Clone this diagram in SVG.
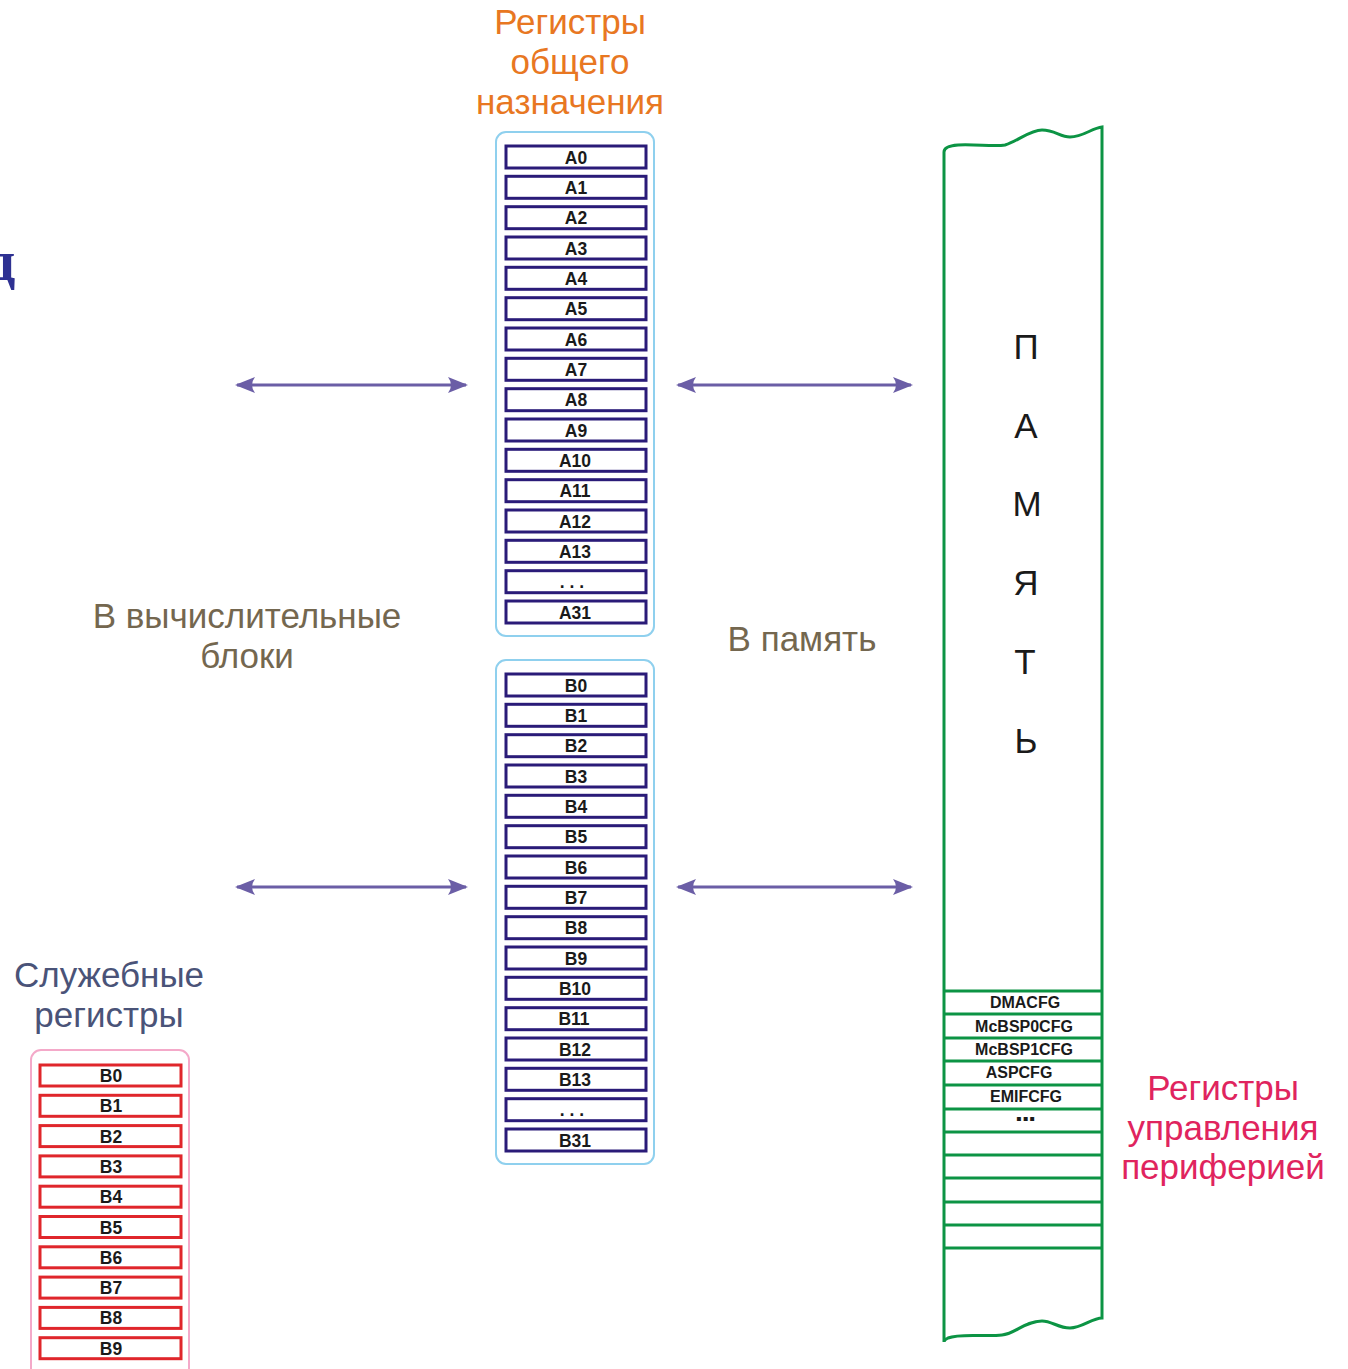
<svg xmlns="http://www.w3.org/2000/svg" width="1348" height="1369" viewBox="0 0 1348 1369">
<style>
text{font-family:"Liberation Sans",Arial,sans-serif}
.cont{fill:none;stroke:#8fd0ee;stroke-width:2}
.contp{fill:none;stroke:#f4a9c9;stroke-width:2}
.cell{fill:#fff;stroke:#2a1b78;stroke-width:3}
.cellr{fill:#fff;stroke:#e0262b;stroke-width:3}
.cl{font-size:17.5px;font-weight:bold;fill:#1a1a1a;text-anchor:middle}
.mem{fill:none;stroke:#0c9444;stroke-width:3}
.ml{font-size:16px;font-weight:bold;fill:#1a1a1a;text-anchor:middle}
.big{font-size:35px;text-anchor:middle}
.let{font-size:35px;fill:#1a1a1a;text-anchor:middle}
.arr{stroke:#6b5ea6;stroke-width:3;fill:none;marker-start:url(#ah);marker-end:url(#ah)}
</style>
<defs>
<marker id="ah" viewBox="0 0 20 16" refX="18" refY="8" markerWidth="20" markerHeight="16" markerUnits="userSpaceOnUse" orient="auto-start-reverse">
<path d="M0,0 L20,8 L0,16 Q6,8 0,0 Z" fill="#6b5ea6"/>
</marker>
</defs>
<rect width="1348" height="1369" fill="#fff"/>
<text x="-14" y="280" font-size="58" font-weight="bold" fill="#2e3192" style="font-family:'Liberation Serif',serif">д</text>

<g id="title-gp"><text class="big" fill="#e87722"><tspan x="570" y="34">Регистры</tspan><tspan x="570" y="74">общего</tspan><tspan x="570" y="114">назначения</tspan></text></g>
<g id="label-compute"><text class="big" fill="#74674f"><tspan x="247" y="628">В вычислительные</tspan><tspan x="247" y="668">блоки</tspan></text></g>
<g id="label-memory"><text class="big" fill="#74674f" x="802" y="651">В память</text></g>
<g id="title-service"><text class="big" fill="#4a5378"><tspan x="109" y="987">Служебные</tspan><tspan x="109" y="1027">регистры</tspan></text></g>
<g id="title-periph"><text class="big" fill="#e0245e"><tspan x="1223" y="1100">Регистры</tspan><tspan x="1223" y="1140">управления</tspan><tspan x="1223" y="1179">периферией</tspan></text></g>

<g id="regs-A">
<rect class="cont" x="496" y="132" width="158" height="504" rx="10"/>
<rect class="cell" x="506" y="146" width="140" height="22"/><text class="cl" x="576" y="163.5">A0</text>
<rect class="cell" x="506" y="176.3" width="140" height="22"/><text class="cl" x="576" y="193.8">A1</text>
<rect class="cell" x="506" y="206.7" width="140" height="22"/><text class="cl" x="576" y="224.2">A2</text>
<rect class="cell" x="506" y="237" width="140" height="22"/><text class="cl" x="576" y="254.5">A3</text>
<rect class="cell" x="506" y="267.3" width="140" height="22"/><text class="cl" x="576" y="284.8">A4</text>
<rect class="cell" x="506" y="297.7" width="140" height="22"/><text class="cl" x="576" y="315.2">A5</text>
<rect class="cell" x="506" y="328" width="140" height="22"/><text class="cl" x="576" y="345.5">A6</text>
<rect class="cell" x="506" y="358.3" width="140" height="22"/><text class="cl" x="576" y="375.8">A7</text>
<rect class="cell" x="506" y="388.7" width="140" height="22"/><text class="cl" x="576" y="406.2">A8</text>
<rect class="cell" x="506" y="419" width="140" height="22"/><text class="cl" x="576" y="436.5">A9</text>
<rect class="cell" x="506" y="449.3" width="140" height="22"/><text class="cl" x="575" y="466.8">A10</text>
<rect class="cell" x="506" y="479.7" width="140" height="22"/><text class="cl" x="575" y="497.2">A11</text>
<rect class="cell" x="506" y="510" width="140" height="22"/><text class="cl" x="575" y="527.5">A12</text>
<rect class="cell" x="506" y="540.3" width="140" height="22"/><text class="cl" x="575" y="557.8">A13</text>
<rect class="cell" x="506" y="570.7" width="140" height="22"/><text class="cl" x="572" y="587.7" font-size="13" font-weight="normal">. . .</text>
<rect class="cell" x="506" y="601" width="140" height="22"/><text class="cl" x="575" y="618.5">A31</text>
</g>

<g id="regs-B">
<rect class="cont" x="496" y="660" width="158" height="504" rx="10"/>
<rect class="cell" x="506" y="674" width="140" height="22"/><text class="cl" x="576" y="691.5">B0</text>
<rect class="cell" x="506" y="704.3" width="140" height="22"/><text class="cl" x="576" y="721.8">B1</text>
<rect class="cell" x="506" y="734.7" width="140" height="22"/><text class="cl" x="576" y="752.2">B2</text>
<rect class="cell" x="506" y="765" width="140" height="22"/><text class="cl" x="576" y="782.5">B3</text>
<rect class="cell" x="506" y="795.3" width="140" height="22"/><text class="cl" x="576" y="812.8">B4</text>
<rect class="cell" x="506" y="825.7" width="140" height="22"/><text class="cl" x="576" y="843.2">B5</text>
<rect class="cell" x="506" y="856" width="140" height="22"/><text class="cl" x="576" y="873.5">B6</text>
<rect class="cell" x="506" y="886.3" width="140" height="22"/><text class="cl" x="576" y="903.8">B7</text>
<rect class="cell" x="506" y="916.7" width="140" height="22"/><text class="cl" x="576" y="934.2">B8</text>
<rect class="cell" x="506" y="947" width="140" height="22"/><text class="cl" x="576" y="964.5">B9</text>
<rect class="cell" x="506" y="977.3" width="140" height="22"/><text class="cl" x="575" y="994.8">B10</text>
<rect class="cell" x="506" y="1007.7" width="140" height="22"/><text class="cl" x="574" y="1025.2">B11</text>
<rect class="cell" x="506" y="1038" width="140" height="22"/><text class="cl" x="575" y="1055.5">B12</text>
<rect class="cell" x="506" y="1068.3" width="140" height="22"/><text class="cl" x="575" y="1085.8">B13</text>
<rect class="cell" x="506" y="1098.7" width="140" height="22"/><text class="cl" x="572" y="1115.7" font-size="13" font-weight="normal">. . .</text>
<rect class="cell" x="506" y="1129" width="140" height="22"/><text class="cl" x="575" y="1146.5">B31</text>
</g>

<g id="regs-service">
<rect class="contp" x="31" y="1050" width="158" height="340" rx="10"/>
<rect class="cellr" x="40" y="1065" width="141" height="21"/><text class="cl" x="111" y="1082">B0</text>
<rect class="cellr" x="40" y="1095.3" width="141" height="21"/><text class="cl" x="111" y="1112.3">B1</text>
<rect class="cellr" x="40" y="1125.6" width="141" height="21"/><text class="cl" x="111" y="1142.6">B2</text>
<rect class="cellr" x="40" y="1155.9" width="141" height="21"/><text class="cl" x="111" y="1172.9">B3</text>
<rect class="cellr" x="40" y="1186.2" width="141" height="21"/><text class="cl" x="111" y="1203.2">B4</text>
<rect class="cellr" x="40" y="1216.5" width="141" height="21"/><text class="cl" x="111" y="1233.5">B5</text>
<rect class="cellr" x="40" y="1246.8" width="141" height="21"/><text class="cl" x="111" y="1263.8">B6</text>
<rect class="cellr" x="40" y="1277.1" width="141" height="21"/><text class="cl" x="111" y="1294.1">B7</text>
<rect class="cellr" x="40" y="1307.4" width="141" height="21"/><text class="cl" x="111" y="1324.4">B8</text>
<rect class="cellr" x="40" y="1337.7" width="141" height="21"/><text class="cl" x="111" y="1354.7">B9</text>
</g>

<g id="memory">
<path class="mem" d="M944,1342 V152 Q944,146 958,145 C975,144 995,147 1005,145 C1018,141 1030,130 1042,130 C1055,130 1060,137 1070,137 C1083,137 1092,128 1102,127 V1318 C1092,1318 1082,1328 1070,1328 C1058,1328 1052,1321 1042,1321 C1025,1321 1015,1334 1002,1335 C985,1337 960,1333 948,1338 Q944,1340 944,1342"/>
<g class="mem">
<line x1="944" y1="991" x2="1102" y2="991"/><line x1="944" y1="1014" x2="1102" y2="1014"/><line x1="944" y1="1038" x2="1102" y2="1038"/><line x1="944" y1="1061" x2="1102" y2="1061"/><line x1="944" y1="1085" x2="1102" y2="1085"/><line x1="944" y1="1109" x2="1102" y2="1109"/><line x1="944" y1="1132" x2="1102" y2="1132"/><line x1="944" y1="1155" x2="1102" y2="1155"/><line x1="944" y1="1178" x2="1102" y2="1178"/><line x1="944" y1="1202" x2="1102" y2="1202"/><line x1="944" y1="1225" x2="1102" y2="1225"/><line x1="944" y1="1248" x2="1102" y2="1248"/>
</g>
<text class="let" x="1026" y="359">П</text>
<text class="let" x="1026" y="438">А</text>
<text class="let" x="1027" y="516">М</text>
<text class="let" x="1026" y="595">Я</text>
<text class="let" x="1025" y="674">Т</text>
<text class="let" x="1026" y="753">Ь</text>
<text class="ml" x="1025" y="1008">DMACFG</text>
<text class="ml" x="1024" y="1032">McBSP0CFG</text>
<text class="ml" x="1024" y="1055">McBSP1CFG</text>
<text class="ml" x="1019" y="1078">ASPCFG</text>
<text class="ml" x="1026" y="1102">EMIFCFG</text>
<text class="ml" x="1026" y="1124" font-size="20" letter-spacing="1">▪▪▪</text>
</g>

<g id="connectors">
<line class="arr" x1="237" y1="385" x2="466" y2="385"/>
<line class="arr" x1="678" y1="385" x2="911" y2="385"/>
<line class="arr" x1="237" y1="887" x2="466" y2="887"/>
<line class="arr" x1="678" y1="887" x2="911" y2="887"/>
</g>
</svg>
